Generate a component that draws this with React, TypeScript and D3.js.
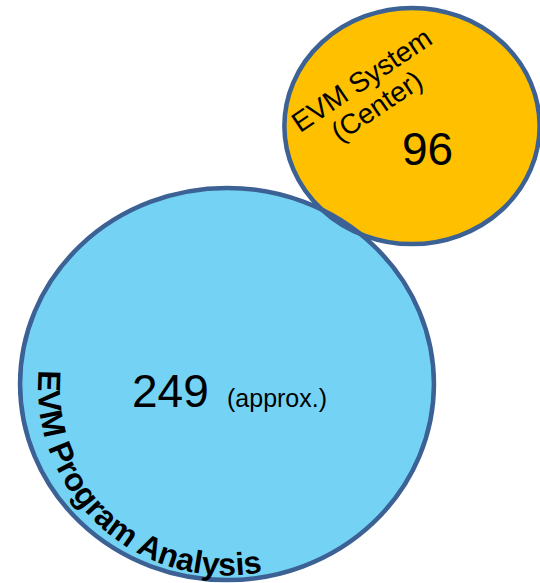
import React from "react";
import * as d3 from "d3";

const categories = ["EVM Program Analysis", "EVM System"];
const subLabels = ["", "(Center)"];
const values = [249, 96];
const valueNotes = ["(approx.)", ""];

const W = 540;
const H = 583;
const FONT = "'Liberation Sans', Arial, Helvetica, sans-serif";

export default function App() {
  const rScale = d3.scaleSqrt().domain([0, d3.max(values) as number]).range([0, 201.5]);

  // layout (positions / stretch of each set shape)
  const blue = { cx: 227, cy: 384, kx: 1.027, ky: 0.973, r: rScale(values[0]) };
  const orange = { cx: 412, cy: 126, kx: 1.02, ky: 0.944, r: rScale(values[1]) };
  const bRx = blue.r * blue.kx, bRy = blue.r * blue.ky;
  const oRx = orange.r * orange.kx, oRy = orange.r * orange.ky;

  // text arc for the blue label
  const arcC = { x: 227, y: 386.5, R: 189 };
  const a0 = (185 * Math.PI) / 180;
  const a1 = (0 * Math.PI) / 180;
  const p = d3.path();
  p.moveTo(arcC.x + arcC.R * Math.cos(a0), arcC.y + arcC.R * Math.sin(a0));
  p.arc(arcC.x, arcC.y, arcC.R, a0, a1, true);

  const stroke = "#3C6194";

  return (
    <svg width={W} height={H} style={{ position: "absolute", left: 0, top: 0 }} fontFamily={FONT}>
      <defs>
        <clipPath id="clipOrange">
          <ellipse cx={orange.cx} cy={orange.cy} rx={oRx} ry={oRy} />
        </clipPath>
        <path id="blueArc" d={p.toString()} />
      </defs>
      <rect width={W} height={H} fill="#fff" />
      <ellipse cx={blue.cx} cy={blue.cy} rx={bRx} ry={bRy} fill="#74D3F5" />
      <ellipse cx={orange.cx} cy={orange.cy} rx={oRx} ry={oRy} fill="#FFC000" />
      <ellipse cx={blue.cx} cy={blue.cy} rx={bRx} ry={bRy} fill="#1E90D6" clipPath="url(#clipOrange)" />
      <ellipse cx={blue.cx} cy={blue.cy} rx={bRx} ry={bRy} fill="none" stroke={stroke} strokeWidth={4.5} />
      <ellipse cx={orange.cx} cy={orange.cy} rx={oRx} ry={oRy} fill="none" stroke={stroke} strokeWidth={4.5} />

      {/* orange set label */}
      <g transform="translate(367,88) rotate(-34)" fill="#000" fontSize={28} textAnchor="middle">
        <text x={0} y={0}>{categories[1]}</text>
        <text x={-2} y={30}>{subLabels[1]}</text>
      </g>
      <text x={427.5} y={165} fontSize={46} textAnchor="middle" fill="#000">{values[1]}</text>

      {/* blue set value */}
      <text x={132} y={407} fontSize={46} fill="#000">{values[0]}</text>
      <text x={227} y={407} fontSize={25} fill="#000">{valueNotes[0]}</text>

      {/* blue set label along arc */}
      <text fontSize={32} fontWeight="bold" fill="#000">
        <textPath href="#blueArc" startOffset={0}>{categories[0]}</textPath>
      </text>
    </svg>
  );
}
